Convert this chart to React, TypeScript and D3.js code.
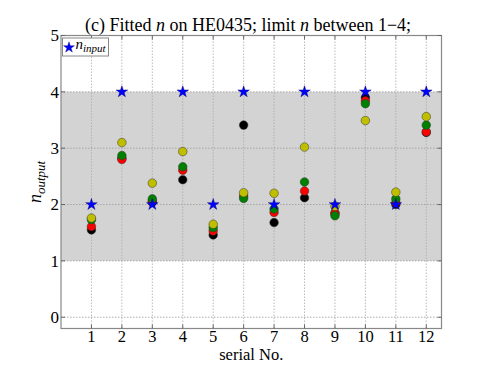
import * as d3 from 'd3';

// serial numbers and the n values
const serials = [1, 2, 3, 4, 5, 6, 7, 8, 9, 10, 11, 12];
const nInput = [2, 4, 2, 4, 2, 4, 2, 4, 2, 4, 2, 4];
const nBlack = [1.55, 2.82, 2.04, 2.44, 1.46, 3.41, 1.68, 2.12, 1.85, 3.9, 2.0, 3.28];
const nRed = [1.61, 2.8, 2.06, 2.61, 1.53, 2.15, 1.86, 2.24, 1.84, 3.84, 2.03, 3.29];
const nGreen = [1.73, 2.87, 2.1, 2.67, 1.59, 2.11, 1.92, 2.4, 1.8, 3.79, 2.1, 3.41];
const nYellow = [1.76, 3.1, 2.38, 2.94, 1.65, 2.21, 2.2, 3.02, 1.97, 3.49, 2.22, 3.56];
const yTicks = [0, 1, 2, 3, 4, 5];
const band = [1, 4];

const series = [
    { name: 'black', color: '#000000', values: nBlack },
    { name: 'red', color: '#ff0000', values: nRed },
    { name: 'green', color: '#008000', values: nGreen },
    { name: 'yellow', color: '#bfbf00', values: nYellow },
];

const FONT = 'Liberation Serif';

export default function App() {
    const width = 491;
    const height = 365;
    const margin = { top: 35.5, right: 49.5, bottom: 36.5, left: 61 };
    const innerW = width - margin.left - margin.right;
    const innerH = height - margin.top - margin.bottom;

    const x = d3.scaleLinear().domain([0, 12.5]).range([0, innerW]);
    const y = d3.scaleLinear().domain([-0.2, 5]).range([innerH, 0]);

    const star = d3.symbol().type(d3.symbolStar).size(42)();
    const legendStar = d3.symbol().type(d3.symbolStar).size(36)();

    return (
        <svg width={width} height={height} style={{ position: 'absolute', left: 0, top: 0 }}>
            <rect width={width} height={height} fill="white" />
            <text x={248} y={31} textAnchor="middle" fontSize={18} fontFamily={FONT} fill="#000">
                (c) Fitted <tspan fontStyle="italic">n</tspan> on HE0435; limit <tspan fontStyle="italic">n</tspan> between 1−4;
            </text>
            <g transform={`translate(${margin.left},${margin.top})`}>
                <rect x={0} y={y(band[1])} width={innerW} height={y(band[0]) - y(band[1])} fill="#d3d3d3" />
                {serials.map(s => (
                    <line key={'gx' + s} x1={x(s)} x2={x(s)} y1={0} y2={innerH} stroke="#aaa" strokeWidth={0.8} strokeDasharray="1.5,1.5" />
                ))}
                {yTicks.map(t => (
                    <line key={'gy' + t} x1={0} x2={innerW} y1={y(t)} y2={y(t)} stroke="#999" strokeWidth={0.8} strokeDasharray="1.5,1.5" />
                ))}
                {series.map(se => (
                    <g key={se.name}>
                        {se.values.map((v, i) => (
                            <circle key={i} cx={x(serials[i])} cy={y(v)} r={4.3} fill={se.color} stroke="#333" strokeWidth={0.5} />
                        ))}
                    </g>
                ))}
                {nInput.map((v, i) => (
                    <path key={'s' + i} d={star!} transform={`translate(${x(serials[i])},${y(v)})`} fill="#0000ff" stroke="#000066" strokeWidth={0.4} />
                ))}
                <rect x={0} y={0} width={innerW} height={innerH} fill="none" stroke="#888" strokeWidth={1.2} />
                {yTicks.map(t => (
                    <g key={'ty' + t}>
                        <line x1={0} x2={4} y1={y(t)} y2={y(t)} stroke="#666" />
                        <line x1={innerW - 4} x2={innerW} y1={y(t)} y2={y(t)} stroke="#666" />
                        <text x={-2} y={y(t)} dy="0.35em" textAnchor="end" fontSize={17} fontFamily={FONT}>{t}</text>
                    </g>
                ))}
                {serials.map(s => (
                    <g key={'tx' + s}>
                        <line x1={x(s)} x2={x(s)} y1={innerH} y2={innerH - 4} stroke="#666" />
                        <line x1={x(s)} x2={x(s)} y1={0} y2={4} stroke="#666" />
                        <text x={x(s)} y={innerH + 13.5} textAnchor="middle" fontSize={16.5} fontFamily={FONT}>{s}</text>
                    </g>
                ))}
                <text x={innerW / 2} y={innerH + 31.5} textAnchor="middle" fontSize={16.5} fontFamily={FONT}>serial No.</text>
                <text transform={`translate(-20,${innerH / 2}) rotate(-90)`} textAnchor="middle" fontSize={18} fontFamily={FONT}>
                    <tspan fontStyle="italic">n</tspan>
                    <tspan fontStyle="italic" fontSize={13} dy={4}>output</tspan>
                </text>
                <g transform="translate(1.5,2.5)">
                    <rect x={0} y={0} width={46} height={18} fill="white" stroke="#888" strokeWidth={1} />
                    <path d={legendStar!} transform="translate(6.5,9.5)" fill="#0000ff" stroke="#000066" strokeWidth={0.4} />
                    <text x={13} y={11} fontSize={15} fontFamily={FONT}>
                        <tspan fontStyle="italic">n</tspan>
                        <tspan fontStyle="italic" fontSize={11} dy={3}>input</tspan>
                    </text>
                </g>
            </g>
        </svg>
    );
}
